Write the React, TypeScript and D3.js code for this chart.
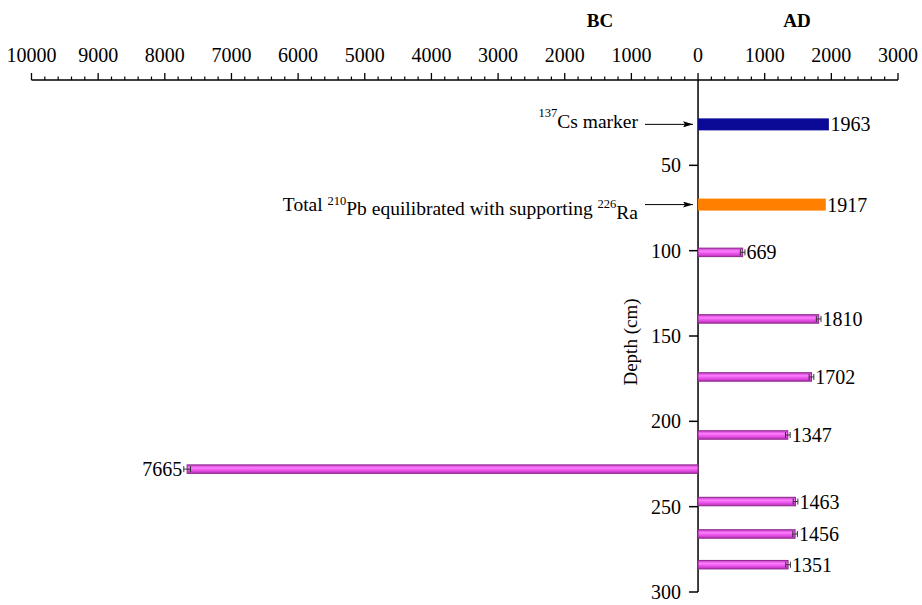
import React from "react";
import * as d3 from "d3";

const depths = [26, 73, 101, 140, 174, 208, 228, 247, 266, 284];
const ages = [1963, 1917, 669, 1810, 1702, 1347, -7665, 1463, 1456, 1351];
const ageLabels = ["1963", "1917", "669", "1810", "1702", "1347", "7665", "1463", "1456", "1351"];
const ageErrors = [0, 0, 35, 35, 35, 35, 50, 35, 35, 35];
const kinds = ["cs", "pb", "c14", "c14", "c14", "c14", "c14", "c14", "c14", "c14"];
const xTicks = [-10000, -9000, -8000, -7000, -6000, -5000, -4000, -3000, -2000, -1000, 0, 1000, 2000, 3000];
const yTicks = [50, 100, 150, 200, 250, 300];

const W = 922, H = 605;
const FONT = "'Liberation Serif', 'Times New Roman', serif";

export default function App() {
  const x = d3.scaleLinear().domain([-10000, 3000]).range([31.5, 898]);
  const y = d3.scaleLinear().domain([0, 300]).range([80, 592]);
  const axisY = 80;
  const x0 = x(0);
  const minorTicks = d3.range(-10000, 3001, 200).filter((v) => v % 1000 !== 0);

  return (
    <svg width={W} height={H} style={{ position: "absolute", left: 0, top: 0, background: "#fff" }} fontFamily={FONT}>
      <defs>
        <linearGradient id="pinkGrad" x1="0" y1="0" x2="0" y2="1">
          <stop offset="0" stopColor="#c43ac4" />
          <stop offset="0.35" stopColor="#ff7dff" />
          <stop offset="0.7" stopColor="#e24be2" />
          <stop offset="1" stopColor="#b52fb5" />
        </linearGradient>
        <marker id="arrow" viewBox="0 0 10 6" refX="10" refY="3" markerWidth="10" markerHeight="6" markerUnits="userSpaceOnUse" orient="auto">
          <path d="M0,0 L10,3 L0,6 L2,3 Z" fill="#000" />
        </marker>
      </defs>

      {/* BC / AD headers */}
      <text x={600} y={27} fontSize={19} fontWeight="bold" textAnchor="middle">BC</text>
      <text x={797} y={27} fontSize={19} fontWeight="bold" textAnchor="middle">AD</text>

      {/* top axis */}
      <line x1={x(-10000)} x2={x(3000)} y1={axisY} y2={axisY} stroke="#000" strokeWidth={1.5} />
      {xTicks.map((t) => (
        <g key={"xt" + t}>
          <line x1={x(t)} x2={x(t)} y1={axisY} y2={axisY - 7} stroke="#000" strokeWidth={1.3} />
          <text x={x(t)} y={62} fontSize={20} textAnchor="middle">{Math.abs(t)}</text>
        </g>
      ))}
      {minorTicks.map((t) => (
        <line key={"mt" + t} x1={x(t)} x2={x(t)} y1={axisY} y2={axisY - 3.5} stroke="#000" strokeWidth={1.2} />
      ))}

      {/* left (depth) axis at x=0 */}
      <line x1={x0} x2={x0} y1={axisY} y2={y(300)} stroke="#000" strokeWidth={1.5} />
      {yTicks.map((t) => (
        <g key={"yt" + t}>
          <line x1={x0 - 9} x2={x0} y1={y(t)} y2={y(t)} stroke="#000" strokeWidth={1.5} />
          <text x={x0 - 17} y={y(t)} dy="0.35em" fontSize={20} textAnchor="end">{t}</text>
        </g>
      ))}
      <text transform={`translate(${630},${342}) rotate(-90)`} fontSize={19} textAnchor="middle" dy="0.35em">Depth (cm)</text>

      {/* bars */}
      {depths.map((d, i) => {
        const v = ages[i];
        const kind = kinds[i];
        const h = kind === "c14" ? 8.5 : 12;
        const cy = y(d);
        const xa = Math.min(x(v), x0);
        const wd = Math.abs(x(v) - x0);
        const fill = kind === "cs" ? "#0a0a96" : kind === "pb" ? "#ff8000" : "url(#pinkGrad)";
        const stroke = kind === "c14" ? "#8b2a8b" : "none";
        const err = ageErrors[i];
        const sign = v < 0 ? -1 : 1;
        const endX = x(v + sign * err);
        return (
          <g key={"b" + i}>
            <rect x={xa} y={cy - h / 2} width={wd} height={h} fill={fill} stroke={stroke} strokeWidth={1} />
            {err > 0 && (
              <g stroke="#333" strokeWidth={1}>
                <line x1={x(v - err)} x2={x(v + err)} y1={cy} y2={cy} />
                <line x1={x(v - err)} x2={x(v - err)} y1={cy - 3} y2={cy + 3} />
                <line x1={x(v + err)} x2={x(v + err)} y1={cy - 3} y2={cy + 3} />
              </g>
            )}
            <text x={endX + sign * 1.5} y={cy} dy="0.35em" fontSize={20} textAnchor={v < 0 ? "end" : "start"}>{ageLabels[i]}</text>
          </g>
        );
      })}

      {/* annotations */}
      <text x={638} y={y(depths[0])} dy="0.35em" fontSize={19.5} textAnchor="end">
        <tspan fontSize={12.5} dy="-0.55em">137</tspan>
        <tspan dy="0.55em">Cs marker</tspan>
      </text>
      <line x1={645} x2={693} y1={y(depths[0])} y2={y(depths[0])} stroke="#000" strokeWidth={1} markerEnd="url(#arrow)" />

      <text x={638} y={y(depths[1])} dy="0.35em" fontSize={19.5} textAnchor="end">
        <tspan>Total </tspan>
        <tspan fontSize={12.5} dy="-0.55em">210</tspan>
        <tspan dy="0.55em">Pb equilibrated with supporting </tspan>
        <tspan fontSize={12.5} dy="-0.55em">226</tspan>
        <tspan dy="0.55em">Ra</tspan>
      </text>
      <line x1={645} x2={693} y1={y(depths[1])} y2={y(depths[1])} stroke="#000" strokeWidth={1} markerEnd="url(#arrow)" />
    </svg>
  );
}
